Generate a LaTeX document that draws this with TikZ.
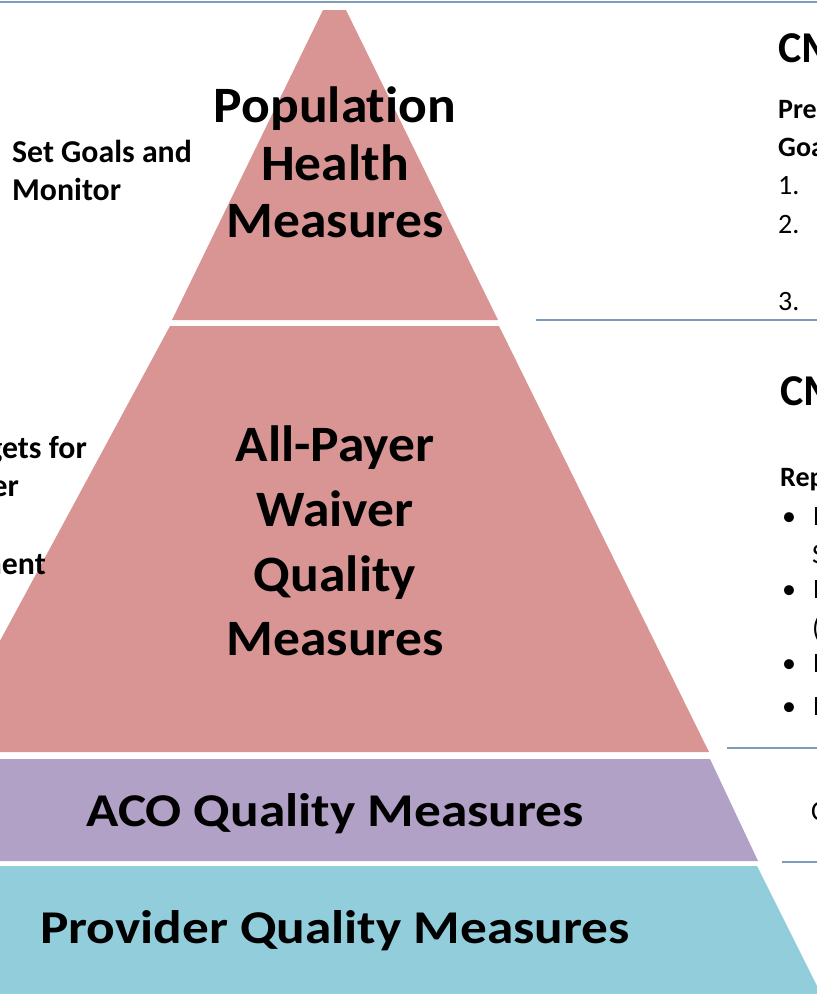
\documentclass[tikz,border=0pt]{standalone}
\usepackage{fontspec}
\usepackage{graphicx}
\setmainfont{Carlito}[Ligatures={NoCommon}]
\definecolor{pinkfill}{HTML}{D99594}
\definecolor{purplefill}{HTML}{B2A1C7}
\definecolor{bluefill}{HTML}{92CDDC}
\definecolor{rulecol}{HTML}{7C9DB9}
\newcommand\hstr[2]{\scalebox{#1}[1]{#2}}
\tikzset{
  rule/.style={draw=rulecol, line width=2.2pt},
  tier/.style={draw=none},
  bigtxt/.style={inner sep=0pt, anchor=base, font=\fontsize{51}{58}\selectfont\bfseries},
  midtxt/.style={inner sep=0pt, anchor=base, font=\fontsize{47}{52}\selectfont\bfseries},
  sidetxt/.style={inner sep=0pt, anchor=base west, font=\fontsize{31.8}{38}\selectfont\bfseries},
  rtxt/.style={inner sep=0pt, anchor=base west, font=\fontsize{28}{32}\selectfont\bfseries},
  rreg/.style={inner sep=0pt, anchor=base west, font=\fontsize{28}{32}\selectfont},
  headtxt/.style={inner sep=0pt, anchor=base west, font=\fontsize{44}{48}\selectfont\bfseries},
}
\begin{document}
\begin{tikzpicture}[x=1pt,y=-1pt]
\useasboundingbox (0,0) rectangle (817,994);
\fill[white] (0,0) rectangle (817,994);
\clip (0,0) rectangle (817,994);

% pyramid tiers
\fill[pinkfill, tier] (323,10) -- (346,10) -- (498,320) -- (172,320) -- cycle;
\fill[pinkfill, tier] (170,326) -- (499,326) -- (709,752) -- (-60,752) -- cycle;
\fill[purplefill, tier] (-60,759) -- (710,759) -- (758,861) -- (-60,861) -- cycle;
\fill[bluefill, tier] (-60,866) -- (757,866) -- (822,996) -- (-60,996) -- cycle;

% rules
\coordinate (r1a) at (0,2);   \coordinate (r1b) at (817,2);
\coordinate (r2a) at (536,320); \coordinate (r2b) at (817,320);
\coordinate (r3a) at (727,748); \coordinate (r3b) at (817,748);
\coordinate (r4a) at (782,862); \coordinate (r4b) at (817,862);
\draw[rule] (r1a) -- (r1b);
\draw[rule] (r2a) -- (r2b);
\draw[rule] (r3a) -- (r3b);
\draw[rule] (r4a) -- (r4b);

% pyramid texts
\node[bigtxt] (p1) at (335,122) {\hstr{1.05}{Population}};
\node[bigtxt] (p2) at (335,180) {\hstr{1.05}{Health}};
\node[bigtxt] (p3) at (335,237) {\hstr{1.05}{Measures}};
\node[bigtxt] (w1) at (335,461) {\hstr{1.05}{All-Payer}};
\node[bigtxt] (w2) at (335,526) {\hstr{1.05}{Waiver}};
\node[bigtxt] (w3) at (335,591) {\hstr{1.05}{Quality}};
\node[bigtxt] (w4) at (335,655) {\hstr{1.05}{Measures}};
\node[midtxt] (aco) at (335,826) {\hstr{1.135}{ACO Quality Measures}};
\node[midtxt] (prov) at (335,943) {\hstr{1.135}{Provider Quality Measures}};

% left texts
\node[sidetxt] (l1) at (12,162) {Set Goals and};
\node[sidetxt] (l2) at (12,200) {Monitor};
\node[sidetxt, anchor=base east] (l3) at (87,458) {Set Targets for};
\node[sidetxt, anchor=base east] (l4) at (19,496) {Waiver};
\node[sidetxt, anchor=base east] (l5) at (46,574) {Improvement};

% right texts (cut by the edge)
\node[headtxt] (c1) at (778,62) {CMS};
\node[rtxt] (c1a) at (778,118) {Pre};
\node[rtxt] (c1b) at (778,156) {Goa};
\node[rreg] (c1c) at (778,194) {1.};
\node[rreg] (c1d) at (778,233) {2.};
\node[rreg] (c1e) at (778,310) {3.};

\node[headtxt] (c2) at (780,405) {CMS};
\node[rtxt] (c2a) at (780,486) {Rep};
\node[rreg] (b1) at (782,525) {\textbullet};
\node[rreg] (b1s) at (812,563) {S};
\node[rreg] (b2) at (782,598) {\textbullet};
\node[rreg] (b2s) at (812,637) {(};
\node[rreg] (b3) at (782,672) {\textbullet};
\node[rreg] (b4) at (782,715) {\textbullet};
\node[rreg] (b1t) at (813,525) {E};
\node[rreg] (b2t) at (813,598) {E};
\node[rreg] (b3t) at (813,672) {E};
\node[rreg] (b4t) at (813,715) {E};
\node[rreg] (c3) at (811,820) {C};
\end{tikzpicture}
\end{document}
